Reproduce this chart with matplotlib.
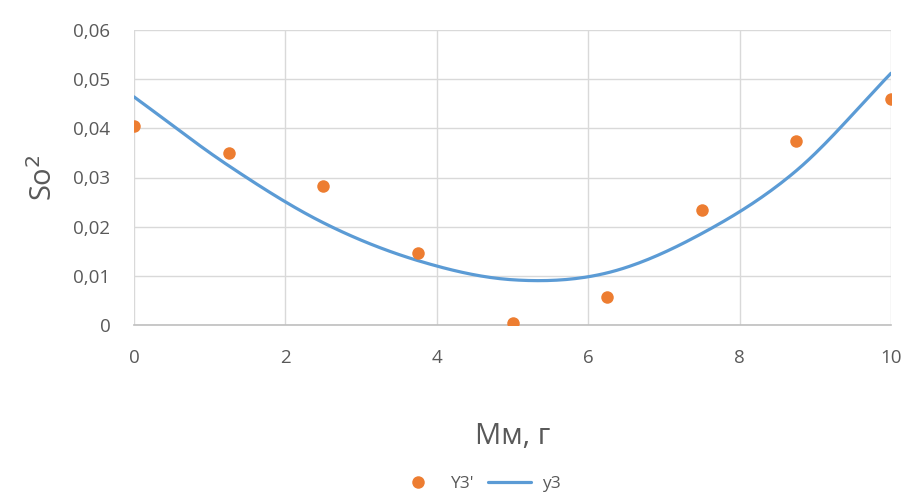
import numpy as np
import matplotlib
matplotlib.use("Agg")
import matplotlib.pyplot as plt
from matplotlib.ticker import FuncFormatter

x_vals = [0, 1.25, 2.5, 3.75, 5, 6.25, 7.5, 8.75, 10]
y3_points = [0.0405, 0.0350, 0.0283, 0.0146, 0.0004, 0.0057, 0.0234, 0.0374, 0.0460]
y3_curve = [0.0464, 0.0324, 0.0208, 0.0131, 0.0092, 0.0106, 0.0186, 0.0314, 0.0512]
x_ticks = [0, 2, 4, 6, 8, 10]
y_ticks = [0, 0.01, 0.02, 0.03, 0.04, 0.05, 0.06]

plt.rcParams['font.family'] = ['Open Sans', 'DejaVu Sans']

def smooth(xs, ys, n=30):
    # Catmull-Rom rendering of a smoothed line through the given points
    xs = np.asarray(xs, float); ys = np.asarray(ys, float)
    P = np.column_stack([xs, ys])
    P = np.vstack([2 * P[0] - P[1], P, 2 * P[-1] - P[-2]])
    out = []
    for i in range(1, len(P) - 2):
        p0, p1, p2, p3 = P[i - 1], P[i], P[i + 1], P[i + 2]
        t = np.linspace(0, 1, n, endpoint=False)[:, None]
        seg = 0.5 * ((2 * p1) + (-p0 + p2) * t + (2 * p0 - 5 * p1 + 4 * p2 - p3) * t ** 2
                     + (-p0 + 3 * p1 - 3 * p2 + p3) * t ** 3)
        out.append(seg)
    out.append(P[-2][None, :])
    out = np.vstack(out)
    return out[:, 0], out[:, 1]

fig = plt.figure(figsize=(9.18, 4.97), dpi=100)
ax = fig.add_axes([134 / 918, 1 - 325 / 497, (891 - 134) / 918, (325 - 30) / 497])

sx, sy = smooth(x_vals, y3_curve)
ax.plot(x_vals, y3_points, 'o', color='#ED7D31', markersize=9, label="Y3'", zorder=3, markeredgewidth=0)
ax.plot(sx, sy, '-', color='#5B9BD5', linewidth=2.3, label='y3', zorder=2, solid_capstyle='round')

ax.set_xlim(0, 10)
ax.set_ylim(0, 0.06)
ax.set_xticks(x_ticks)
ax.set_yticks(y_ticks)

def yfmt(v, pos):
    if abs(v) < 1e-12:
        return '0'
    return ('%.2f' % v).replace('.', ',')

ax.yaxis.set_major_formatter(FuncFormatter(yfmt))
ax.xaxis.set_major_formatter(FuncFormatter(lambda v, p: '%d' % round(v)))
ax.grid(True, color='#D9D9D9', linewidth=1)
ax.set_axisbelow(True)
for s in ['top', 'right', 'left']:
    ax.spines[s].set_visible(False)
ax.spines['bottom'].set_color('#BFBFBF')
ax.spines['bottom'].set_linewidth(1.2)
ax.tick_params(length=0, labelsize=13.5, colors='#595959')
ax.tick_params(axis='y', pad=17)
ax.tick_params(axis='x', pad=17)

ax.set_xlabel('Мм, г', fontsize=21, color='#595959', labelpad=40)
ax.set_ylabel('So$^2$', fontsize=21, color='#595959', labelpad=10)

leg = ax.legend(loc='lower center', bbox_to_anchor=(0.455, -0.62), ncol=2, frameon=False,
                fontsize=12.5, handlelength=2.5, columnspacing=0.8, handletextpad=0.6)
for t in leg.get_texts():
    t.set_color('#595959')

fig.savefig('out.png', dpi=100)
